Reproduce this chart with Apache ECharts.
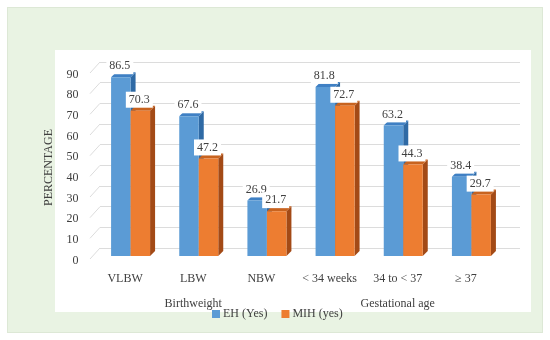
<!DOCTYPE html>
<html>
<head>
<meta charset="utf-8">
<script src="https://cdn.jsdelivr.net/npm/echarts@6/dist/echarts.min.js"></script>
<style>
html,body{margin:0;padding:0;background:#fff;width:550px;height:340px;overflow:hidden;}
#outer{position:absolute;left:7px;top:7px;width:534px;height:324px;background:#e9f3e3;border:1px solid #dde8d6;}
#inner{position:absolute;left:55px;top:50px;width:476px;height:262px;background:#fff;}
#chart{position:absolute;left:0;top:0;width:550px;height:340px;}
</style>
</head>
<body>
<div id="outer"></div>
<div id="inner"></div>
<div id="chart"></div>
<script>
const categories = ['VLBW', 'LBW', 'NBW', '< 34 weeks', '34 to < 37', '\u2265 37'];
const groupLabels = ['', 'Birthweight', '', '', 'Gestational age', ''];
const ehValues = [86.5, 67.6, 26.9, 81.8, 63.2, 38.4];
const mihValues = [70.3, 47.2, 21.7, 72.7, 44.3, 29.7];
const yTicks = [0, 10, 20, 30, 40, 50, 60, 70, 80, 90];
const seriesNames = ['EH (Yes)', 'MIH (yes)'];

const FONT = '"Liberation Serif", "DejaVu Serif", serif';
const TXT = '#404040';
const BAR_W = 19.5;
const DEPTH = 5;
const colors = [
  {front: '#5b9bd5', side: '#2f6aa5', top: '#3f80c4'},
  {front: '#ed7d31', side: '#a34a16', top: '#c8631f'}
];

function sideRenderer(s) {
  return function (params, api) {
    const cat = api.value(0), val = api.value(1);
    const topPt = api.coord([cat, val]);
    const basePt = api.coord([cat, 0]);
    const cx = topPt[0];
    const left = s === 0 ? cx - BAR_W : cx;
    const right = left + BAR_W;
    const ty = topPt[1], by = basePt[1];
    return {
      type: 'group',
      children: [
        {type: 'polygon', shape: {points: [[right, ty], [right + DEPTH, ty - DEPTH], [right + DEPTH, by - DEPTH], [right, by]]},
         style: {fill: colors[s].side}},
        {type: 'polygon', shape: {points: [[left, ty], [left + DEPTH, ty - DEPTH], [right + DEPTH, ty - DEPTH], [right, ty]]},
         style: {fill: colors[s].top}}
      ]
    };
  };
}

const chart = echarts.init(document.getElementById('chart'), null, {renderer: 'canvas'});
chart.setOption({
  backgroundColor: 'transparent',
  animation: false,
  textStyle: {fontFamily: FONT},
  grid: [
    {left: 96.5, right: 44.5, top: 70, bottom: 84},
    {left: 100, right: 30, top: 62, bottom: 92},
    {left: 96.5, right: 44.5, top: 74.5, bottom: 79.5}
  ],
  legend: {
    data: seriesNames,
    left: 212, top: 308, padding: 0,
    icon: 'rect', itemWidth: 8, itemHeight: 8, itemGap: 14,
    textStyle: {fontFamily: FONT, fontSize: 12, color: TXT, padding: [0, 0, 0, -2]}
  },
  xAxis: [
    {type: 'category', gridIndex: 0, data: categories,
     axisLine: {show: false}, axisTick: {show: false},
     axisLabel: {interval: 0, margin: 17, fontSize: 12, color: TXT, fontFamily: FONT, padding: [0, 11, 0, 0]}},
    {type: 'category', gridIndex: 0, data: groupLabels, position: 'bottom',
     axisLine: {show: false}, axisTick: {show: false},
     axisLabel: {interval: 0, margin: 42, fontSize: 12, color: TXT, fontFamily: FONT, padding: [0, 11, 0, 0]}},
    {type: 'value', gridIndex: 1, min: 0, max: 1, show: false},
    {type: 'value', gridIndex: 2, min: 0, max: 1, show: false}
  ],
  yAxis: [
    {type: 'value', gridIndex: 0, min: 0, max: 90, interval: 10, show: false},
    {type: 'value', gridIndex: 1, min: 0, max: 90, interval: 10,
     axisLine: {show: false}, axisTick: {show: false}, axisLabel: {show: false},
     splitLine: {show: true, lineStyle: {color: '#dcdcdc', width: 1}}},
    {type: 'value', gridIndex: 2, min: 0, max: 90, interval: 10,
     name: 'PERCENTAGE', nameLocation: 'middle', nameRotate: 90, nameGap: 42,
     nameTextStyle: {fontFamily: FONT, fontSize: 12, color: TXT},
     axisLine: {show: false}, axisTick: {show: false}, splitLine: {show: false},
     axisLabel: {margin: 18, fontSize: 12, color: TXT, fontFamily: FONT}}
  ],
  series: [
    {type: 'custom', name: '_diag', xAxisIndex: 2, yAxisIndex: 1, z: 0,
     renderItem: function (params, api) {
       const p = api.coord([0, api.value(1)]);
       return {type: 'line', shape: {x1: p[0] - 10, y1: p[1] + 11, x2: p[0], y2: p[1]},
               style: {stroke: '#dcdcdc', lineWidth: 1}};
     },
     data: yTicks.map(v => [0, v]), silent: true},
    {type: 'custom', name: '_s0', xAxisIndex: 0, yAxisIndex: 0, z: 1, renderItem: sideRenderer(0),
     data: ehValues.map((v, i) => [i, v]), silent: true},
    {type: 'custom', name: '_s1', xAxisIndex: 0, yAxisIndex: 0, z: 1, renderItem: sideRenderer(1),
     data: mihValues.map((v, i) => [i, v]), silent: true},
    {type: 'bar', name: seriesNames[0], xAxisIndex: 0, yAxisIndex: 0, z: 2,
     barWidth: BAR_W, barGap: '0%', data: ehValues,
     itemStyle: {color: colors[0].front},
     label: {show: true, position: 'top', distance: 3, offset: [-1, 0], fontSize: 12, fontFamily: FONT, color: TXT,
             backgroundColor: '#fff', padding: [2, 3]}},
    {type: 'bar', name: seriesNames[1], xAxisIndex: 0, yAxisIndex: 0, z: 2,
     barWidth: BAR_W, barGap: '0%', data: mihValues,
     itemStyle: {color: colors[1].front},
     label: {show: true, position: 'top', distance: 3, offset: [-1, 0], fontSize: 12, fontFamily: FONT, color: TXT,
             backgroundColor: '#fff', padding: [2, 3]}}
  ]
});
</script>
</body>
</html>
